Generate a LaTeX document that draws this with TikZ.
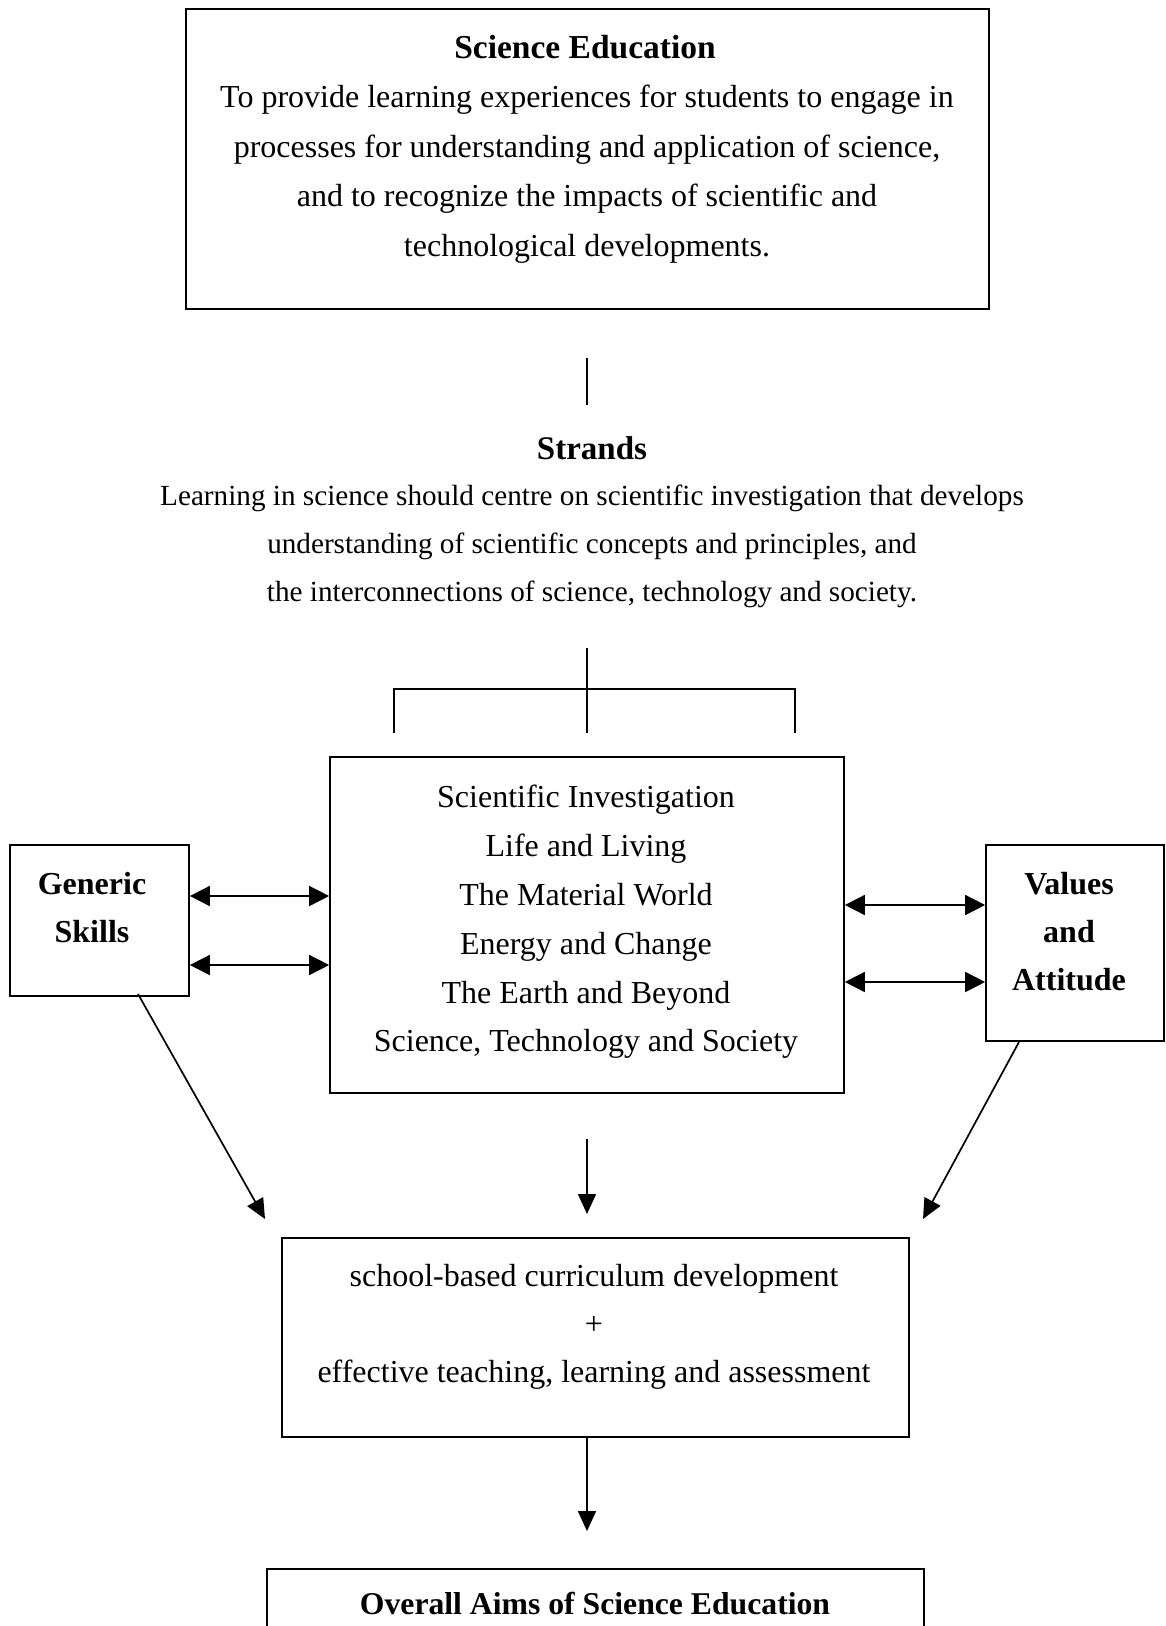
\documentclass[tikz,border=0pt]{standalone}
\usepackage{fontspec}
\setmainfont{Liberation Serif}
\usetikzlibrary{arrows.meta}
\begin{document}
\begin{tikzpicture}[x=1pt,y=-1pt,
  box/.style={draw, line width=1.7pt, inner sep=0pt},
  body/.style={align=center, inner sep=0pt, font=\fontsize{32}{49.5}\selectfont},
  small/.style={align=center, inner sep=0pt, font=\fontsize{29.2}{48}\selectfont},
  head/.style={align=center, inner sep=0pt, font=\fontsize{32}{48}\selectfont\bfseries},
  conn/.style={line width=1.7pt},
  arr/.style={conn, -{Triangle[length=20pt,width=18pt]}},
  darr/.style={conn, {Triangle[length=20pt,width=20pt]}-{Triangle[length=20pt,width=20pt]}}]
\clip (0,0) rectangle (1166,1626);
\fill[white] (0,0) rectangle (1166,1626);

% boxes
\node[box, minimum width=803pt, minimum height=300pt] (top) at (587.5,159) {};
\node[box, minimum width=514pt, minimum height=336pt] (mid) at (587,925) {};
\node[box, minimum width=179pt, minimum height=151pt] (gen) at (99.5,920.5) {};
\node[box, minimum width=178pt, minimum height=196pt] (val) at (1075,943) {};
\node[box, minimum width=627pt, minimum height=199pt] (school) at (595.5,1337.5) {};
\node[box, minimum width=657pt, minimum height=90pt] (aims) at (595.5,1614) {};

% texts
\node[head, font=\fontsize{33.5}{48}\selectfont\bfseries] (toptitle) at (585,47) {Science Education};
\node[body] (toptext) at (587,174) {To provide learning experiences for students to engage in\\
processes for understanding and application of science,\\
and to recognize the impacts of scientific and\\
technological developments.};

\node[head, font=\fontsize{33}{48}\selectfont\bfseries] (strtitle) at (592,448) {Strands};
\node[small] (strtext) at (592,546) {Learning in science should centre on scientific investigation that develops\\
understanding of scientific concepts and principles, and\\
the interconnections of science, technology and society.};

\node[body, font=\fontsize{32}{48.8}\selectfont] (midtext) at (586,922) {Scientific Investigation\\
Life and Living\\
The Material World\\
Energy and Change\\
The Earth and Beyond\\
Science, Technology and Society};

\node[head] (gentext) at (92,908) {Generic\\Skills};
\node[head] (valtext) at (1069,932) {Values\\and\\Attitude};

\node[body, font=\fontsize{32}{48}\selectfont] (schooltext) at (594,1327) {school-based curriculum development\\
+\\
effective teaching, learning and assessment};

\node[head, font=\fontsize{31.7}{48}\selectfont\bfseries] (aimstext) at (595,1604) {Overall Aims of Science Education};

% connectors
\coordinate (v1a) at (587,358);
\coordinate (v1b) at (587,405);
\draw[conn] (v1a) -- (v1b);

\coordinate (brtop) at (587,648);
\coordinate (brmid) at (587,689);
\coordinate (brl) at (394,689);
\coordinate (brr) at (795,689);
\coordinate (brlend) at (394,733);
\coordinate (brmend) at (587,733);
\coordinate (brrend) at (795,733);
\draw[conn] (brtop) -- (brmend);
\draw[conn] (brlend) -- (brl) -- (brr) -- (brrend);

\draw[darr] (gen.east |- 0,896) -- (mid.west |- 0,896);
\draw[darr] (gen.east |- 0,965) -- (mid.west |- 0,965);
\draw[darr] (mid.east |- 0,905) -- (val.west |- 0,905);
\draw[darr] (mid.east |- 0,982) -- (val.west |- 0,982);

\coordinate (gstart) at (138,994);
\coordinate (gtip) at (265,1219);
\coordinate (vstart) at (1019,1042);
\coordinate (vtip) at (923,1219);
\coordinate (mstart) at (587,1139);
\coordinate (mtip) at (587,1214);
\coordinate (stip) at (587,1531);
\draw[arr] (gstart) -- (gtip);
\draw[arr] (vstart) -- (vtip);
\draw[arr] (mstart) -- (mtip);
\draw[arr] (school.south -| stip) -- (stip);
\end{tikzpicture}
\end{document}
